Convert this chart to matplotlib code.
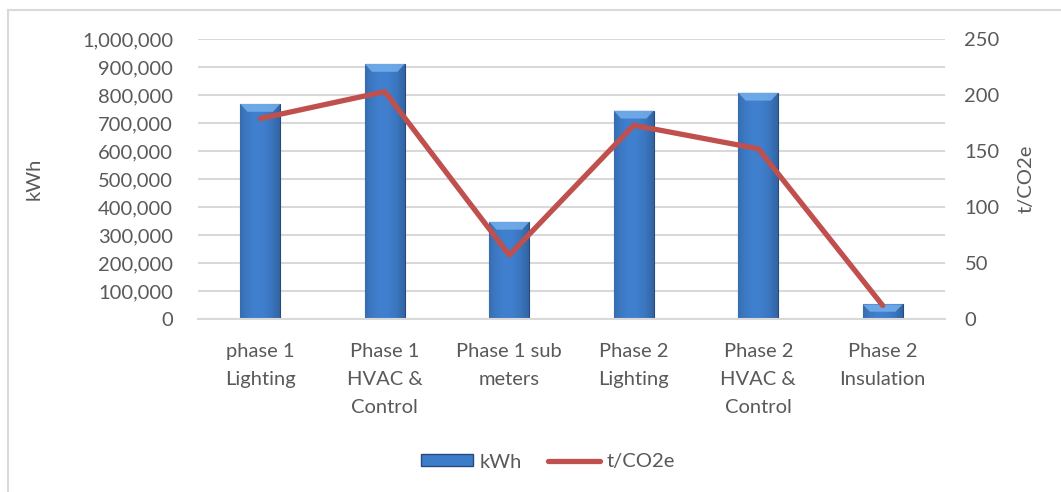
import matplotlib.pyplot as plt
import numpy as np
from matplotlib.lines import Line2D
from matplotlib.patches import Rectangle, Polygon
from matplotlib.ticker import FuncFormatter

plt.rcParams['font.family'] = ['Lato', 'DejaVu Sans']

categories = ['phase 1\nLighting', 'Phase 1\nHVAC &\nControl', 'Phase 1 sub\nmeters',
              'Phase 2\nLighting', 'Phase 2\nHVAC &\nControl', 'Phase 2\nInsulation']
kwh = [768000, 911000, 347000, 744000, 808000, 52000]
co2 = [179, 203, 57, 173, 152, 12]

text_col = '#595959'
grid_col = '#d9d9d9'
line_col = '#C0504D'
fs = 14.5

fig = plt.figure(figsize=(10.61, 4.92), dpi=100)
ax = fig.add_axes([198 / 1061, 1 - 319 / 492, (945 - 198) / 1061, 280 / 492])
ax2 = ax.twinx()

x = np.arange(len(categories))
bars = ax.bar(x, kwh, width=0.32, color='#3d7cc9', edgecolor='#264a80', linewidth=0.8, zorder=2)

# soft horizontal gradient on each bar, clipped to the bar shape
grad = np.linspace(0, 1, 64)
shade = 1 - 0.22 * (np.abs(grad - 0.45) / 0.55) ** 2
rgb = np.array([0x40, 0x80, 0xcf]) / 255.0
img = (shade[:, None] * rgb[None, :])[None, :, :]
for b in bars:
    x0, y0, w, h = b.get_x(), b.get_y(), b.get_width(), b.get_height()
    im = ax.imshow(img, extent=[x0, x0 + w, y0, y0 + h], aspect='auto', zorder=2.1,
                   interpolation='bicubic')
    im.set_clip_path(b)
    # bevelled top (lighter trapezoid)
    cap = min(h * 0.5, 28000)
    top = y0 + h
    ax.add_patch(Polygon([(x0, top), (x0 + w, top), (x0 + w * 0.82, top - cap),
                          (x0 + w * 0.18, top - cap)], closed=True,
                         color='#78b2ee', alpha=0.8, lw=0, zorder=2.2))

ax.set_xlim(-0.5, len(categories) - 0.5)
ax.set_ylim(0, 1000000)
ax.set_yticks(np.arange(0, 1000001, 100000))
ax.yaxis.set_major_formatter(FuncFormatter(lambda v, p: f'{int(v):,}'))
ax.grid(axis='y', color=grid_col, linewidth=1.5, zorder=0)
ax.set_axisbelow(True)
ax.set_xticks(x)
ax.set_xticklabels(categories, fontsize=fs, color=text_col, linespacing=1.8)
ax.tick_params(axis='both', length=0, colors=text_col, labelsize=fs)
ax.tick_params(axis='x', pad=17)
ax.tick_params(axis='y', pad=18)
ax.set_ylabel('kWh', fontsize=fs, color=text_col)
ax.yaxis.set_label_coords(-0.208, 0.5)
for s in ax.spines.values():
    s.set_visible(False)
ax.spines['bottom'].set_visible(True)
ax.spines['bottom'].set_color(grid_col)
ax.spines['bottom'].set_linewidth(1.5)

ax2.plot(x, co2, color=line_col, linewidth=3.8, solid_capstyle='round', zorder=3)
ax2.set_ylim(0, 250)
ax2.set_yticks(np.arange(0, 251, 50))
ax2.tick_params(axis='y', length=0, colors=text_col, labelsize=fs, pad=14)
ax2.set_ylabel('t/CO2e', fontsize=fs, color=text_col, rotation=90)
ax2.yaxis.set_label_coords(1.097, 0.5)
for s in ax2.spines.values():
    s.set_visible(False)

handles = [Rectangle((0, 0), 1, 1, facecolor='#3d7cc9', edgecolor='#264a80'),
           Line2D([0], [0], color=line_col, linewidth=3.8, solid_capstyle='round')]
fig.legend(handles, ['kWh', 't/CO2e'], loc='center', bbox_to_anchor=(548 / 1061, 1 - 462 / 492),
           ncol=2, frameon=False, fontsize=fs, labelcolor=text_col, handlelength=2.6,
           handleheight=0.55, handletextpad=0.3, columnspacing=1.3)

# chart border (left and top)
fig.add_artist(Line2D([8 / 1061, 8 / 1061], [0, 1 - 10 / 492], color=grid_col, linewidth=1.5))
fig.add_artist(Line2D([8 / 1061, 1], [1 - 10 / 492, 1 - 10 / 492], color=grid_col, linewidth=1.5))

fig.savefig('out.png', dpi=100, facecolor='white')
